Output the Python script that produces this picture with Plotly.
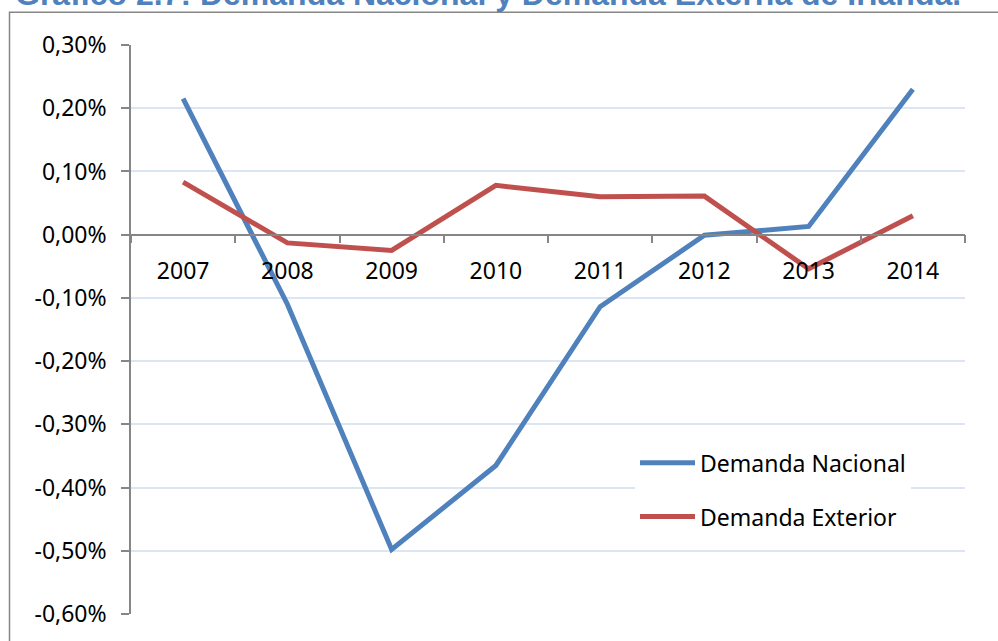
import plotly.graph_objects as go

years = ["2007", "2008", "2009", "2010", "2011", "2012", "2013", "2014"]
demanda_nacional = [0.00215, -0.00110, -0.00498, -0.00365, -0.00114, -0.00001, 0.00013, 0.00230]
demanda_exterior = [0.00083, -0.00013, -0.00025, 0.00078, 0.00060, 0.00061, -0.00054, 0.00030]

y_tickvals = [0.003, 0.002, 0.001, 0.0, -0.001, -0.002, -0.003, -0.004, -0.005, -0.006]
y_ticktext = ["0,30%", "0,20%", "0,10%", "0,00%", "-0,10%", "-0,20%", "-0,30%", "-0,40%", "-0,50%", "-0,60%"]

title_text = "Gráfico 2.7: Demanda Nacional y Demanda Externa de Irlanda."

W, H = 998, 641
L, R, T, B = 131, 33, 44.5, 24.3
pw, ph = W - L - R, H - T - B

def px_x(x):
    return (x - L) / pw

def px_y(y):
    return 1 - (y - T) / ph

fig = go.Figure()
fig.add_trace(go.Scatter(x=years, y=demanda_nacional, mode="lines", name="Demanda Nacional",
                         line=dict(color="#4F81BD", width=5), legendgroup="a"))
fig.add_trace(go.Scatter(x=years, y=demanda_exterior, mode="lines", name="Demanda Exterior",
                         line=dict(color="#C0504D", width=5), legendgroup="b"))

ymin, ymax = -0.006, 0.003

fig.update_layout(
    width=W, height=H,
    margin=dict(l=L, r=R, t=T, b=B, pad=0),
    paper_bgcolor="white", plot_bgcolor="white",
    font=dict(family="Noto Sans", size=23, color="black"),
    title=dict(text=title_text, xref="container", yref="container",
               x=15 / W, xanchor="left", y=1 - 4.5 / H, yanchor="bottom",
               font=dict(family="Liberation Sans", size=32, color="#4F81BD", weight="bold")),
    xaxis=dict(type="category", range=[-0.5, 7.5], anchor="free",
               position=(0 - ymin) / (ymax - ymin),
               showline=True, linecolor="#868686", linewidth=1.5,
               ticks="outside", ticklen=8, tickwidth=1.5, tickcolor="#868686",
               tickson="boundaries", showgrid=False, zeroline=False,
               ticklabelstandoff=16,
               tickfont=dict(family="Noto Sans", size=23, color="black")),
    yaxis=dict(range=[ymin, ymax], tickvals=y_tickvals, ticktext=y_ticktext,
               showline=True, linecolor="#868686", linewidth=1.5,
               ticks="outside", ticklen=8, tickwidth=1.5, tickcolor="#868686",
               showgrid=True, gridcolor="#DCE5F3", gridwidth=1.5, zeroline=False,
               ticklabelstandoff=10,
               tickfont=dict(family="Noto Sans", size=23, color="black")),
    legend=dict(x=px_x(635), xanchor="left", y=px_y(443), yanchor="top",
                bgcolor="white", borderwidth=0, itemwidth=55,
                traceorder="grouped", tracegroupgap=21,
                font=dict(family="Noto Sans", size=23, color="black")),
    showlegend=True,
)

fig.add_shape(type="rect", xref="paper", yref="paper",
              x0=px_x(9.5), x1=px_x(1200), y0=px_y(900), y1=px_y(11.5),
              line=dict(color="#868686", width=1.5), fillcolor="rgba(0,0,0,0)", layer="below")

fig.write_html("out.html", config={"displayModeBar": False},
               post_script="document.body.style.margin='0';")
